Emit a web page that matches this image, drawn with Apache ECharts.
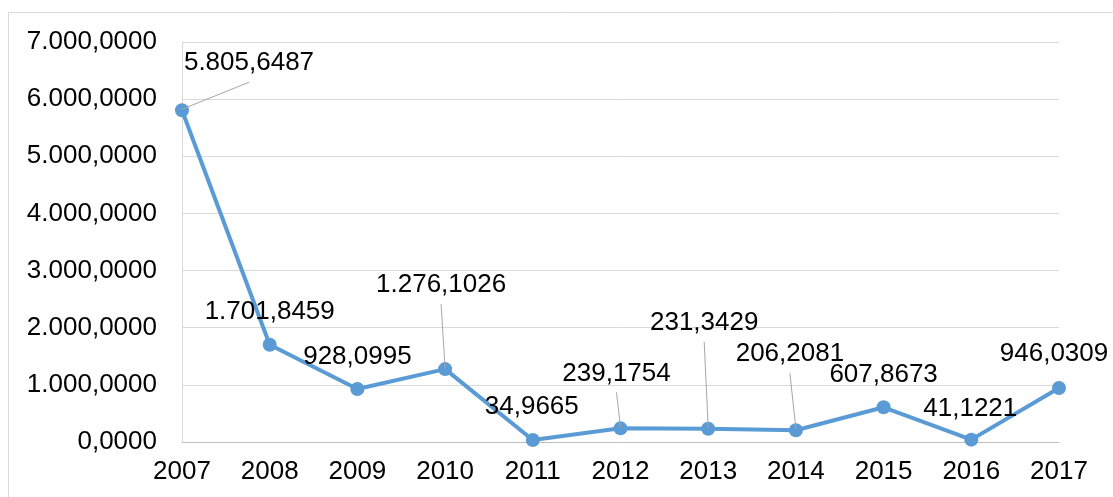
<!DOCTYPE html>
<html>
<head>
<meta charset="utf-8">
<script src="https://cdn.jsdelivr.net/npm/echarts@6/dist/echarts.min.js"></script>
<style>html,body{margin:0;padding:0;background:#fff}#c{width:1113px;height:497px}</style>
</head>
<body>
<div id="c"></div>
<script>
const years = ['2007','2008','2009','2010','2011','2012','2013','2014','2015','2016','2017'];
const values = [5805.6487, 1701.8459, 928.0995, 1276.1026, 34.9665, 239.1754, 231.3429, 206.2081, 607.8673, 41.1221, 946.0309];
const yMin = 0, yMax = 7000, yStep = 1000;

// label centre offsets (px) from each point's centre; and which labels get a leader line
const labelOx = [67, 0, 0, -4, -1, -4, -4, -6, 0, -1, -5];
const labelOy = [-47, -33, -32, -84, -33, -55, -106, -76, -32, -31, -34];
const leader = [true, false, false, true, false, true, true, true, false, false, false];

function fmt(v, dec) {
  const s = Math.abs(v).toFixed(dec);
  let [ip, dp] = s.split('.');
  ip = ip.replace(/\B(?=(\d{3})+(?!\d))/g, '.');
  return (v < 0 ? '-' : '') + ip + (dp ? ',' + dp : '');
}

const chart = echarts.init(document.getElementById('c'), null, {renderer: 'canvas'});
const FONT = '"Liberation Sans", Arial, sans-serif';
const FS = 26;
chart.setOption({
  animation: false,
  backgroundColor: '#fff',
  textStyle: {fontFamily: FONT},
  graphic: [{
    type: 'rect', shape: {x: 8.5, y: 12.5, width: 1300, height: 700},
    style: {fill: 'none', stroke: '#d9d9d9', lineWidth: 1}, silent: true
  }],
  grid: {left: 182, right: 54, top: 42, bottom: 55},
  xAxis: {
    type: 'category', data: years, boundaryGap: false,
    axisLine: {show: true, lineStyle: {color: '#bfbfbf', width: 1}},
    axisTick: {show: false},
    axisLabel: {color: '#000', fontSize: FS, fontFamily: FONT, margin: 17}
  },
  yAxis: {
    type: 'value', min: yMin, max: yMax, interval: yStep,
    axisLine: {show: true, lineStyle: {color: '#d9d9d9', width: 1}},
    axisTick: {show: false},
    splitLine: {lineStyle: {color: '#d9d9d9', width: 1}},
    axisLabel: {color: '#000', fontSize: FS, fontFamily: FONT, margin: 25, formatter: v => fmt(v, 4)}
  },
  series: [{
    type: 'line',
    data: values,
    symbol: 'circle', symbolSize: 14,
    lineStyle: {color: '#5b9bd5', width: 4},
    itemStyle: {color: '#5b9bd5'},
    z: 2,
    label: {
      show: true, position: 'top', distance: 5,
      color: '#000', fontSize: FS, fontFamily: FONT,
      formatter: p => fmt(p.value, 4)
    },
    labelLayout: p => {
      const i = p.dataIndex;
      const cx = p.rect.x + p.rect.width / 2;
      const cy = p.rect.y + p.rect.height / 2;
      return {x: cx + labelOx[i], y: cy + labelOy[i], align: 'center', verticalAlign: 'middle', hideOverlap: false};
    }
  }, {
    type: 'custom',
    z: 3,
    silent: true,
    data: values.map((v, i) => [i, v]),
    renderItem: (params, api) => {
      const i = params.dataIndex;
      if (!leader[i]) return null;
      const p = api.coord([api.value(0), api.value(1)]);
      return {
        type: 'line',
        shape: {x1: p[0] + labelOx[i], y1: p[1] + labelOy[i] + 19, x2: p[0], y2: p[1] - 1},
        style: {stroke: '#a6a6a6', lineWidth: 1}
      };
    }
  }]
});
</script>
</body>
</html>
